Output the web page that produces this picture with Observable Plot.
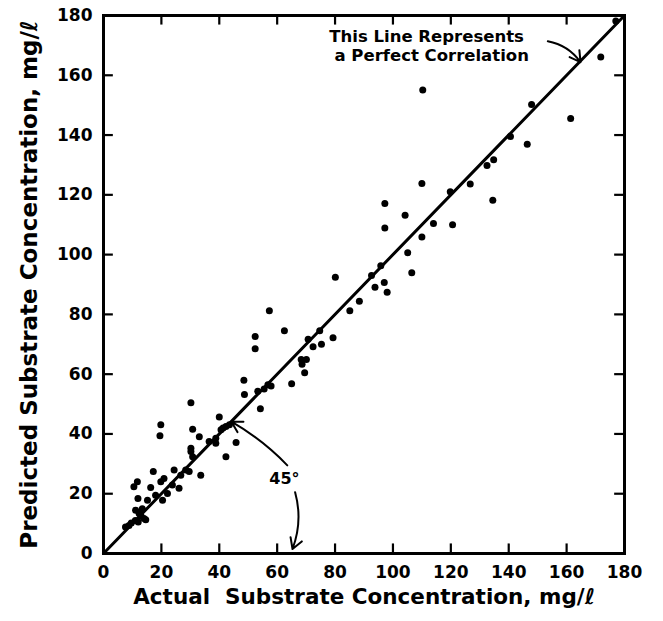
<!DOCTYPE html>
<html>
<head>
<meta charset="utf-8">
<script src="https://cdn.jsdelivr.net/npm/d3@7"></script>
<script src="https://cdn.jsdelivr.net/npm/@observablehq/plot@0.6"></script>
<style>
  html, body { margin: 0; padding: 0; background: #fff; }
  #chart { width: 663px; height: 621px; }
</style>
</head>
<body>
<div id="chart"></div>
<script>
// Tick values for both axes
const tickValues = [0, 20, 40, 60, 80, 100, 120, 140, 160, 180];

// Observed (actual) substrate concentration, mg/l
const actual = [
  7.6, 8.8, 9.6, 11.0, 12.0, 13.0, 14.6, 12.3, 11.1, 13.4, 14.0,
  11.9, 15.2, 18.0, 20.4, 22.1, 16.3, 10.5, 11.7, 19.8, 23.8, 26.1, 20.9,
  17.2, 26.7, 29.6, 28.4, 33.6, 24.4, 30.2, 30.8, 42.3, 30.2, 33.1, 36.5,
  38.8, 45.8, 19.5, 19.8, 30.8, 40.6, 42.3, 41.3, 43.5, 40.0, 38.8, 30.2,
  48.5, 48.7, 53.3, 54.2, 55.5, 56.8, 57.9, 65.0, 52.4, 52.4, 57.3, 62.5,
  68.3, 70.1, 68.6, 69.5, 70.7, 72.4, 74.7, 75.3, 79.3, 80.1, 85.1, 88.4,
  92.6, 93.8, 95.8, 97.0, 98.0, 97.2, 97.2, 104.2, 105.1, 106.5, 110.0,
  110.3, 110.0, 114.0, 119.8, 120.6, 126.7, 132.5, 134.8, 134.5, 140.6,
  146.4, 147.9, 161.4, 171.8, 177.0
];

// Predicted substrate concentration, mg/l
const predicted = [
  8.9, 9.4, 10.2, 11.0, 10.5, 12.5, 11.3, 13.4, 14.5, 15.0, 11.7,
  18.4, 17.8, 19.5, 17.8, 20.1, 22.1, 22.3, 24.0, 24.0, 22.9, 21.8, 25.1,
  27.4, 26.2, 27.4, 27.9, 26.2, 27.9, 34.1, 32.4, 32.4, 35.2, 39.1, 37.5,
  36.9, 37.1, 39.4, 43.1, 41.6, 41.4, 42.5, 42.0, 43.1, 45.7, 38.6, 50.4,
  58.0, 53.2, 54.3, 48.4, 55.0, 56.5, 56.0, 56.8, 72.6, 68.5, 81.2, 74.5,
  64.9, 64.9, 63.3, 60.5, 71.7, 69.2, 74.5, 70.0, 72.2, 92.4, 81.2, 84.4,
  93.0, 89.1, 96.3, 90.7, 87.4, 117.1, 108.9, 113.2, 100.6, 93.9, 105.9,
  155.1, 123.8, 110.4, 121.0, 110.0, 123.6, 129.8, 131.7, 118.2, 139.5,
  136.9, 150.2, 145.5, 166.1, 178.2
];

// Perfect-correlation line end values
const lineEnds = [0, 180];

// Annotation texts
const noteLines = ["This Line Represents", "a Perfect Correlation"];
const angleLabel = "45°";
const xTitle = "Actual  Substrate Concentration, mg/ℓ";
const yTitle = "Predicted Substrate Concentration, mg/ℓ";

const points = actual.map((x, i) => ({x, y: predicted[i]}));
const diag = lineEnds.map(v => ({x: v, y: v}));
const inner = tickValues.slice(1, -1);

const font = "'DejaVu Sans', sans-serif";

const chart = Plot.plot({
  width: 663,
  height: 621,
  marginLeft: 103,
  marginRight: 39,
  marginTop: 15,
  marginBottom: 68,
  x: {domain: [0, 180]},
  y: {domain: [0, 180]},
  style: {fontFamily: font, background: "white", color: "black"},
  marks: [
    Plot.frame({stroke: "black", strokeWidth: 3}),
    // inward ticks on all four sides
    Plot.ruleX(inner, {x: d => d, y1: 0, y2: 3.2, stroke: "black", strokeWidth: 2.2}),
    Plot.ruleX(inner, {x: d => d, y1: 180, y2: 176.8, stroke: "black", strokeWidth: 2.2}),
    Plot.ruleY(inner, {y: d => d, x1: 0, x2: 3.4, stroke: "black", strokeWidth: 2.2}),
    Plot.ruleY(inner, {y: d => d, x1: 180, x2: 176.6, stroke: "black", strokeWidth: 2.2}),
    Plot.axisX({ticks: tickValues, tickSize: 0, tickPadding: 12, fontSize: 17, fontWeight: "bold", label: null}),
    Plot.axisY({ticks: tickValues, tickSize: 0, tickPadding: 11, fontSize: 17, fontWeight: "bold", label: null}),
    Plot.line(diag, {x: "x", y: "y", stroke: "black", strokeWidth: 3}),
    Plot.dot(points, {x: "x", y: "y", r: 3.5, fill: "black", stroke: "none"}),
    // perfect-correlation note
    Plot.text([noteLines[0]], {x: [78], y: [172.8], text: d => d, textAnchor: "start", fontSize: 16.5, fontWeight: "bold"}),
    Plot.text([noteLines[1]], {x: [79.8], y: [166.4], text: d => d, textAnchor: "start", fontSize: 16.5, fontWeight: "bold"}),
    Plot.arrow([0], {x1: [153.5], y1: [171.4], x2: [164.8], y2: [164.4], bend: 22, headLength: 9, stroke: "black", strokeWidth: 2}),
    // 45 degree angle marker
    Plot.text([angleLabel], {x: [62.5], y: [25.0], text: d => d, fontSize: 16, fontWeight: "bold"}),
    Plot.arrow([0], {x1: [63.5], y1: [29.5], x2: [44.2], y2: [44.1], bend: -8, headLength: 9, stroke: "black", strokeWidth: 2}),
    Plot.arrow([0], {x1: [66.2], y1: [20.5], x2: [65.3], y2: [1.5], bend: 18, headLength: 9, stroke: "black", strokeWidth: 2}),
    // axis titles
    Plot.text([xTitle], {frameAnchor: "bottom", dy: 50, text: d => d, fontSize: 21.5, fontWeight: "bold"}),
    Plot.text([yTitle], {frameAnchor: "left", dx: -74, rotate: -90, textAnchor: "middle", text: d => d, fontSize: 23, fontWeight: "bold"})
  ]
});

document.getElementById("chart").appendChild(chart);
</script>
</body>
</html>
